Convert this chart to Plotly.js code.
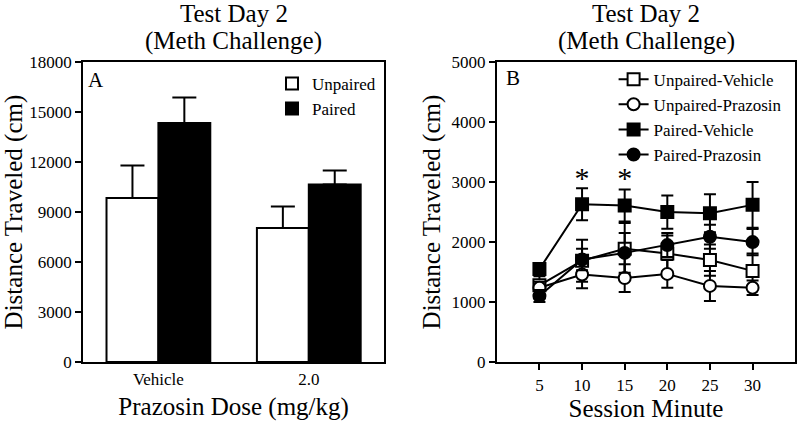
<!DOCTYPE html>
<html><head><meta charset="utf-8">
<script src="https://cdn.plot.ly/plotly-3.0.1.min.js"></script>
<style>body{margin:0;background:#fff}#c{width:800px;height:425px}</style>
</head><body><div id="c"></div>
<script>
// Panel A
const doses = ["Vehicle", "2.0"];
const unpairedMean = [9850, 8050];
const unpairedErr = [1950, 1280];
const pairedMean = [14350, 10650];
const pairedErr = [1520, 850];

// Panel B
const minutes = [5, 10, 15, 20, 25, 30];
const uvMean = [1280, 1690, 1890, 1810, 1700, 1520];
const uvErr = [150, 350, 430, 300, 260, 290];
const upMean = [1240, 1460, 1400, 1470, 1270, 1240];
const upErr = [100, 230, 230, 230, 250, 120];
const pvMean = [1550, 2630, 2610, 2500, 2480, 2620];
const pvErr = [100, 265, 266, 276, 317, 383];
const ppMean = [1100, 1710, 1820, 1950, 2090, 2000];
const ppErr = [100, 180, 330, 200, 200, 220];
const starMinutes = [10, 15];
const starY = [3030, 3030];

const F = "Liberation Serif, Times New Roman, serif";
const eb = (arr, w) => ({type:'data', array:arr, visible:true, color:'#000', thickness:2, width:w});

const traces = [
  {type:'bar', x:doses, y:unpairedMean, name:'Unpaired', xaxis:'x', yaxis:'y', legend:'legend',
   marker:{color:'#fff', line:{color:'#000', width:2}},
   error_y:{type:'data', symmetric:false, array:unpairedErr, arrayminus:[0,0], color:'#000', thickness:2, width:12}},
  {type:'bar', x:doses, y:pairedMean, name:'Paired', xaxis:'x', yaxis:'y', legend:'legend',
   marker:{color:'#000', line:{color:'#000', width:2}},
   error_y:{type:'data', symmetric:false, array:pairedErr, arrayminus:[0,0], color:'#000', thickness:2, width:12}},
  {type:'scatter', mode:'lines+markers', x:minutes, y:uvMean, name:'Unpaired-Vehicle', xaxis:'x2', yaxis:'y2', legend:'legend2',
   line:{color:'#000', width:2}, marker:{symbol:'square', size:12, color:'#fff', line:{color:'#000', width:2}}, error_y:eb(uvErr,6)},
  {type:'scatter', mode:'lines+markers', x:minutes, y:upMean, name:'Unpaired-Prazosin', xaxis:'x2', yaxis:'y2', legend:'legend2',
   line:{color:'#000', width:2}, marker:{symbol:'circle', size:12, color:'#fff', line:{color:'#000', width:2}}, error_y:eb(upErr,6)},
  {type:'scatter', mode:'lines+markers', x:minutes, y:pvMean, name:'Paired-Vehicle', xaxis:'x2', yaxis:'y2', legend:'legend2',
   line:{color:'#000', width:2}, marker:{symbol:'square', size:12, color:'#000', line:{color:'#000', width:2}}, error_y:eb(pvErr,6)},
  {type:'scatter', mode:'lines+markers', x:minutes, y:ppMean, name:'Paired-Prazosin', xaxis:'x2', yaxis:'y2', legend:'legend2',
   line:{color:'#000', width:2}, marker:{symbol:'circle', size:12, color:'#000', line:{color:'#000', width:2}}, error_y:eb(ppErr,6)},
  {type:'scatter', mode:'text', x:starMinutes, y:starY, text:['*','*'], textposition:'middle center',
   textfont:{family:F, size:30, color:'#000'},
   xaxis:'x2', yaxis:'y2', showlegend:false, hoverinfo:'skip'}
];

const axisCommon = {showline:true, linecolor:'#000', linewidth:2, mirror:true, showgrid:false, zeroline:false,
  tickfont:{family:F, size:17, color:'#000'}};
const titleFont = {family:F, size:25, color:'#000'};

const layout = {
  width:800, height:425, margin:{l:0, r:0, t:0, b:0},
  paper_bgcolor:'#fff', plot_bgcolor:'#fff',
  showlegend:true, barmode:'group', bargap:0.31, bargroupgap:0,
  xaxis:Object.assign({}, axisCommon, {domain:[0.104, 0.48], anchor:'y', type:'category', ticks:'', ticklen:0,
    title:{text:'Prazosin Dose (mg/kg)', font:titleFont, standoff:10}}),
  yaxis:Object.assign({}, axisCommon, {domain:[0.148, 0.854], anchor:'x', range:[0,18000], tickformat:'d',
    tickvals:[0,3000,6000,9000,12000,15000,18000],
    ticks:'outside', ticklen:6, tickwidth:2, tickcolor:'#000',
    title:{text:'Distance Traveled (cm)', font:titleFont, standoff:4}}),
  xaxis2:Object.assign({}, axisCommon, {domain:[0.621, 0.994], anchor:'y2', range:[0,35], tickvals:[5,10,15,20,25,30],
    ticks:'outside', ticklen:6, tickwidth:2, tickcolor:'#000',
    title:{text:'Session Minute', font:titleFont, standoff:6}}),
  yaxis2:Object.assign({}, axisCommon, {domain:[0.148, 0.854], anchor:'x2', range:[0,5000], tickformat:'d',
    tickvals:[0,1000,2000,3000,4000,5000],
    ticks:'outside', ticklen:6, tickwidth:2, tickcolor:'#000',
    title:{text:'Distance Traveled (cm)', font:titleFont, standoff:4}}),
  legend:{x:0.34, y:0.845, xanchor:'left', yanchor:'top', bgcolor:'rgba(0,0,0,0)', font:{family:F, size:17, color:'#000'}},
  legend2:{x:0.767, y:0.855, xanchor:'left', yanchor:'top', bgcolor:'rgba(0,0,0,0)', font:{family:F, size:17, color:'#000'}, itemwidth:30},
  annotations:[
    {text:'Test Day 2', xref:'paper', yref:'paper', x:0.292, y:0.969, xanchor:'center', yanchor:'middle', showarrow:false, font:titleFont},
    {text:'(Meth Challenge)', xref:'paper', yref:'paper', x:0.292, y:0.904, xanchor:'center', yanchor:'middle', showarrow:false, font:titleFont},
    {text:'Test Day 2', xref:'paper', yref:'paper', x:0.8075, y:0.969, xanchor:'center', yanchor:'middle', showarrow:false, font:titleFont},
    {text:'(Meth Challenge)', xref:'paper', yref:'paper', x:0.8075, y:0.904, xanchor:'center', yanchor:'middle', showarrow:false, font:titleFont},
    {text:'A', xref:'paper', yref:'paper', x:0.107, y:0.845, xanchor:'left', yanchor:'top', showarrow:false, font:{family:F, size:21, color:'#000'}},
    {text:'B', xref:'paper', yref:'paper', x:0.63, y:0.85, xanchor:'left', yanchor:'top', showarrow:false, font:{family:F, size:21, color:'#000'}}
  ]
};

Plotly.newPlot('c', traces, layout, {staticPlot:true, displayModeBar:false});
</script>
</body></html>
